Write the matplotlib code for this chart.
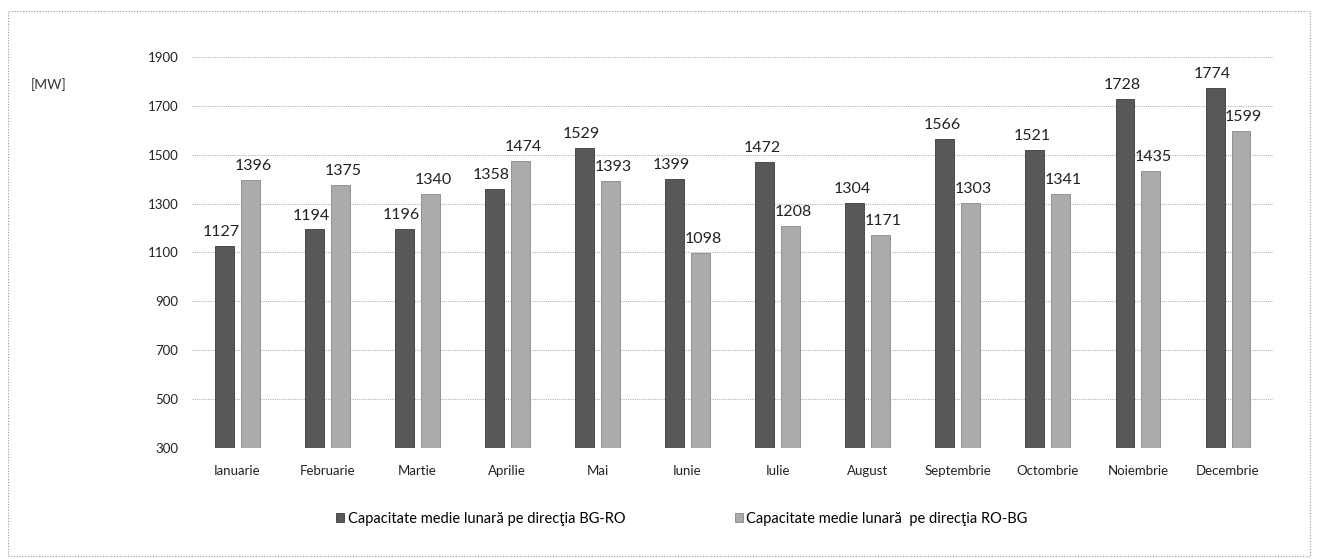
import matplotlib
matplotlib.use("Agg")
import matplotlib.pyplot as plt
import numpy as np
from matplotlib.patches import Rectangle

months = ["Ianuarie", "Februarie", "Martie", "Aprilie", "Mai", "Iunie", "Iulie",
          "August", "Septembrie", "Octombrie", "Noiembrie", "Decembrie"]
bg_ro = [1127, 1194, 1196, 1358, 1529, 1399, 1472, 1304, 1566, 1521, 1728, 1774]
ro_bg = [1396, 1375, 1340, 1474, 1393, 1098, 1208, 1171, 1303, 1341, 1435, 1599]
yticks = [300, 500, 700, 900, 1100, 1300, 1500, 1700, 1900]
label_bg = "Capacitate medie lunară pe direcţia BG-RO"
label_ro = "Capacitate medie lunară  pe direcţia RO-BG"

plt.rcParams['font.family'] = ['Lato', 'DejaVu Sans']

fig = plt.figure(figsize=(13.19, 5.59), dpi=100)
ax = fig.add_axes([0.1456, 0.1986, 0.8196, 0.6995])

x = np.arange(len(months))
off = 0.144
w = 0.21
dark = "#585858"
light = "#ababab"
b1 = ax.bar(x - off, np.array(bg_ro) - 300, w, bottom=300, color=dark,
            edgecolor="#3a3a3a", linewidth=0.6, label=label_bg, zorder=3)
b2 = ax.bar(x + off, np.array(ro_bg) - 300, w, bottom=300, color=light,
            edgecolor="#888888", linewidth=0.6, label=label_ro, zorder=3)

for xi, v in zip(x - off, bg_ro):
    ax.annotate(str(v), (xi, v), xytext=(-2, 5), textcoords="offset points",
                ha="center", va="bottom", fontsize=11.5, color="#222222")
for xi, v in zip(x + off, ro_bg):
    ax.annotate(str(v), (xi, v), xytext=(2, 5), textcoords="offset points",
                ha="center", va="bottom", fontsize=11.5, color="#222222")

ax.set_xlim(-0.5, len(months) - 0.5)
ax.set_ylim(300, 1900)
ax.set_yticks(yticks)
ax.set_yticklabels([str(t) for t in yticks], fontsize=9.5, color="#222222")
ax.set_xticks(x)
ax.set_xticklabels(months, fontsize=9.5, color="#222222")
ax.tick_params(axis="y", length=0, pad=10)
ax.tick_params(axis="x", length=0, pad=12)
ax.yaxis.grid(True, color="#b5b5b5", linestyle=(0, (1, 1)), linewidth=0.8, zorder=0)
for s in ax.spines.values():
    s.set_visible(False)
ax.set_axisbelow(True)

fig.text(0.023, 0.848, "[MW]", fontsize=10, color="#333333", ha="left", va="center")

leg = fig.legend(handles=[b1, b2], loc="center", bbox_to_anchor=(0.517, 0.072),
                 ncol=2, frameon=False, fontsize=10.5, handlelength=0.55,
                 handleheight=0.55, handletextpad=0.25, columnspacing=7.5)

border = Rectangle((8 / 1319, 1 - 556 / 559), 1302 / 1319, 545 / 559,
                   transform=fig.transFigure, fill=False, edgecolor="#9a9a9a",
                   linestyle=(0, (1, 1.5)), linewidth=0.8)
fig.patches.append(border)

fig.savefig("out.png", dpi=100)
